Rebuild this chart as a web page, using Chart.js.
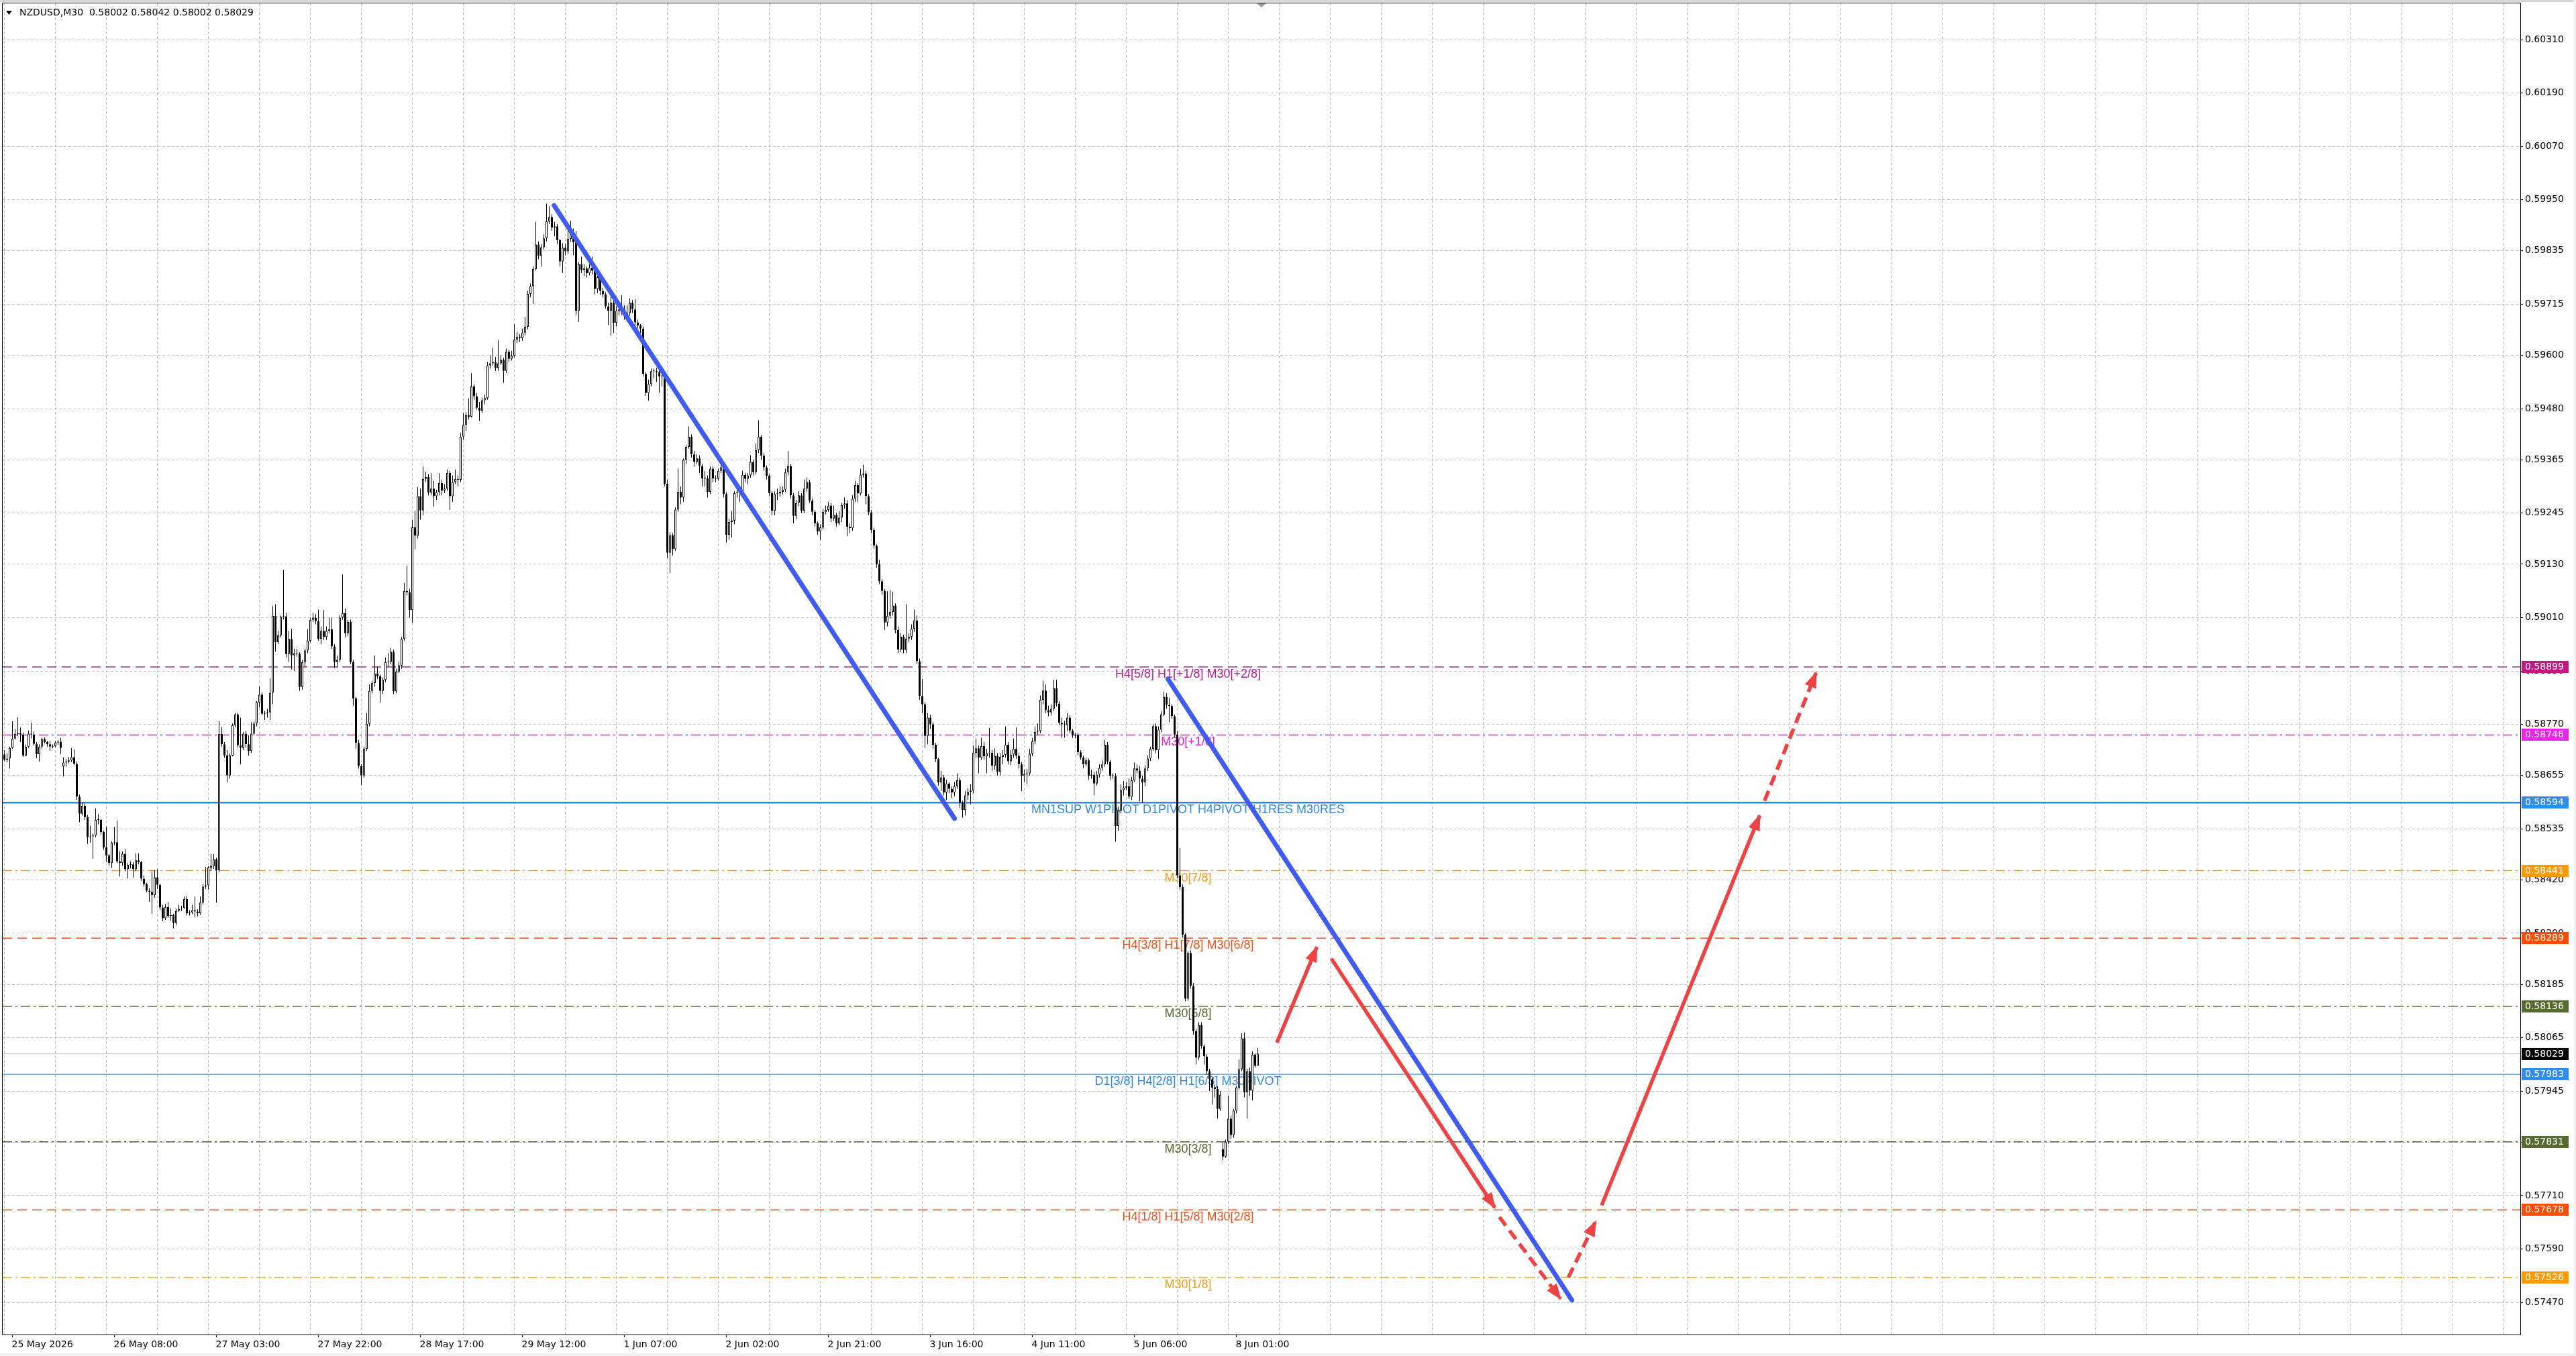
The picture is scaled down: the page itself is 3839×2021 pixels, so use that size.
<!DOCTYPE html>
<html>
<head>
<meta charset="utf-8">
<title>NZDUSD,M30</title>
<script src="https://cdn.jsdelivr.net/npm/chart.js@4.4.1/dist/chart.umd.min.js"></script>
<style>
  html, body { margin: 0; padding: 0; background: #fff; overflow: hidden; }
  #chart { display: block; width: 3839px; height: 2021px; }
</style>
</head>
<body>
<canvas id="chart" width="3839" height="2021"></canvas>
<script>
// ---------------- DATA ----------------
// prices are in points (1 point = 0.00001)
const POINT = 0.00001;
const symbolName = 'NZDUSD,M30';

const opens = [
  58702,58690,58693,58717,58738,58748,58750,58747,58700,58720, 58749,58747,58726,58703,58720,58736,58730,58725,58720,58721,
  58729,58731,58675,58684,58686,58689,58696,58681,58607,58569, 58587,58561,58516,58518,58520,58555,58555,58528,58493,58475,
  58458,58504,58505,58462,58458,58479,58444,58454,58455,58444, 58464,58460,58423,58410,58396,58393,58386,58426,58409,58358,
  58334,58359,58339,58341,58323,58351,58355,58357,58377,58345, 58347,58352,58349,58345,58369,58405,58408,58448,58451,58466,
  58442,58748,58725,58700,58655,58700,58768,58792,58723,58717, 58749,58725,58710,58749,58772,58819,58837,58794,58795,58797,
  58841,59014,58955,58970,59012,59013,58928,58962,58925,58930, 58929,58854,58910,58936,58958,59005,59010,59002,58962,58980,
  58967,58980,58984,58945,58910,58915,59010,59020,58975,59000, 58910,58828,58728,58676,58655,58715,58771,58845,58863,58884,
  58878,58845,58870,58910,58910,58933,58844,58889,58902,58962, 59070,59067,59027,59213,59194,59283,59251,59322,59326,59291,
  59300,59283,59292,59313,59296,59300,59335,59283,59315,59322, 59320,59417,59443,59465,59462,59530,59508,59482,59475,59499,
  59504,59577,59582,59584,59571,59582,59590,59565,59608,59592, 59599,59635,59642,59639,59651,59664,59738,59755,59794,59849,
  59824,59843,59863,59901,59911,59887,59890,59859,59811,59842, 59834,59862,59877,59854,59700,59805,59792,59795,59785,59797,
  59790,59749,59776,59745,59737,59710,59700,59718,59673,59700, 59703,59704,59690,59695,59718,59703,59674,59667,59660,59558,
  59515,59535,59564,59564,59562,59552,59553,59311,59156,59195, 59164,59253,59293,59280,59365,59394,59417,59377,59360,59368,
  59351,59323,59323,59293,59345,59323,59322,59340,59348,59288, 59196,59225,59228,59290,59291,59290,59331,59322,59330,59360,
  59337,59387,59417,59374,59348,59329,59290,59250,59288,59289, 59293,59298,59337,59351,59285,59239,59268,59285,59250,59300,
  59315,59273,59248,59222,59204,59213,59248,59252,59262,59233, 59241,59222,59235,59263,59267,59214,59211,59277,59308,59289,
  59331,59334,59283,59247,59207,59172,59130,59092,59070,58999, 59014,59023,59037,58982,58938,58967,58937,58963,58967,58985,
  59004,58912,58834,58815,58744,58785,58770,58724,58692,58639, 58651,58617,58637,58625,58617,58631,58644,58593,58577,58610,
  58618,58621,58706,58716,58695,58721,58698,58705,58706,58677, 58699,58663,58697,58701,58724,58687,58702,58715,58699,58680,
  58654,58658,58660,58704,58732,58753,58755,58825,58846,58802, 58797,58805,58851,58817,58773,58770,58768,58785,58756,58745,
  58746,58707,58695,58680,58689,58654,58657,58637,58657,58672, 58680,58724,58686,58654,58654,58541,58576,58622,58628,58631,
  58607,58644,58671,58666,58648,58639,58671,58693,58715,58766, 58712,58758,58792,58832,58814,58811,58788,58747,58430,58404,
  58297,58153,58256,58182,58080,58021,58094,58046,58023,57990, 57972,57953,57950,57905,57815,57798,57831,57883,57846,57901,
  57953,57994,58064,57942,57990,57946,58027,58002
];

const highs = [
  58712,58705,58720,58777,58760,58786,58763,58752,58724,58756, 58774,58753,58730,58725,58740,58741,58733,58733,58725,58732,
  58735,58740,58696,58692,58697,58717,58714,58686,58612,58594, 58592,58566,58542,58524,58581,58568,58558,58531,58540,58478,
  58507,58539,58553,58484,58484,58490,58458,58462,58460,58480, 58480,58463,58430,58414,58402,58440,58442,58444,58412,58364,
  58366,58370,58356,58344,58355,58364,58362,58383,58384,58352, 58364,58383,58354,58383,58410,58449,58451,58478,58478,58470,
  58777,58764,58730,58712,58705,58772,58796,58796,58785,58753, 58755,58745,58775,58776,58822,58855,58842,58800,58805,58873,
  59036,59040,58980,59015,59118,59020,58980,58985,58940,58940, 58932,58914,58940,58984,59010,59020,59018,59028,58990,59027,
  58990,59010,59010,58950,58925,59015,59107,59030,59005,59005, 58915,58832,58735,58680,58720,58795,58860,58868,58925,58900,
  58882,58875,58920,58930,58942,58938,58895,58910,58967,59088, 59127,59075,59230,59250,59304,59300,59350,59338,59333,59335,
  59318,59298,59335,59320,59310,59343,59340,59330,59343,59330, 59425,59470,59472,59503,59560,59535,59515,59495,59505,59512,
  59585,59600,59617,59596,59634,59600,59594,59615,59612,59610, 59670,59652,59648,59660,59686,59745,59762,59800,59900,59856,
  59850,59872,59941,59935,59917,59900,59895,59862,59852,59850, 59888,59903,59885,59880,59810,59822,59805,59800,59805,59822,
  59793,59785,59780,59752,59742,59718,59735,59730,59710,59720, 59735,59712,59712,59728,59724,59726,59680,59670,59665,59562,
  59545,59570,59570,59572,59566,59560,59556,59320,59202,59200, 59258,59345,59305,59368,59398,59440,59422,59385,59378,59375,
  59356,59340,59330,59350,59350,59330,59345,59355,59352,59292, 59232,59250,59295,59300,59300,59340,59336,59335,59375,59365,
  59402,59454,59420,59380,59352,59333,59295,59294,59300,59305, 59305,59345,59385,59355,59290,59275,59295,59290,59320,59325,
  59320,59278,59252,59226,59220,59255,59262,59270,59268,59262, 59245,59250,59268,59280,59275,59222,59285,59318,59312,59345,
  59354,59340,59288,59252,59212,59175,59140,59096,59074,59070, 59072,59068,59042,58990,58975,58972,59040,58975,58995,59028,
  59015,58918,58872,58820,58795,58792,58775,58728,58695,58665, 58656,58645,58640,58630,58640,58660,58650,58598,58620,58626,
  58635,58722,58738,58722,58740,58730,58715,58762,58712,58716, 58705,58705,58712,58765,58730,58712,58738,58763,58705,58685,
  58668,58670,58715,58740,58765,58772,58835,58868,58860,58812, 58815,58870,58870,58822,58785,58778,58795,58790,58760,58750,
  58750,58712,58700,58695,58693,58668,58662,58665,58680,58690, 58735,58730,58690,58660,58660,58585,58635,58642,58640,58648,
  58652,58684,58680,58676,58655,58678,58700,58720,58770,58772, 58765,58800,58843,58840,58830,58815,58792,58755,58492,58410,
  58300,58260,58262,58188,58085,58100,58100,58050,58028,57995, 57976,57960,57956,57945,57830,57836,57935,57890,57905,57957,
  58016,58075,58077,57995,57998,58034,58030,58042
];

const lows = [
  58687,58685,58671,58715,58736,58744,58730,58697,58698,58717, 58738,58722,58694,58686,58715,58727,58720,58710,58716,58718,
  58724,58703,58653,58675,58682,58685,58678,58600,58550,58565, 58555,58501,58504,58468,58516,58545,58522,58488,58460,58452,
  58447,58498,58458,58428,58452,58440,58423,58446,58425,58440, 58455,58418,58405,58392,58371,58344,58380,58400,58352,58327,
  58330,58335,58328,58311,58318,58348,58350,58355,58340,58340, 58343,58336,58338,58341,58365,58400,58398,58440,58445,58369,
  58437,58720,58695,58639,58648,58698,58763,58718,58680,58712, 58718,58700,58706,58745,58765,58808,58790,58780,58785,58780,
  58815,58933,58950,58965,59006,58920,58910,58893,58890,58922, 58845,58848,58900,58930,58954,59000,58995,58958,58950,58960,
  58960,58975,58940,58897,58897,58910,59005,58965,58968,58905, 58811,58715,58670,58633,58650,58710,58765,58840,58855,58872,
  58818,58838,58865,58900,58905,58838,58840,58885,58895,58958, 59060,59010,58998,59164,59188,59230,59240,59315,59285,59285,
  59260,59275,59285,59285,59290,59295,59252,59270,59310,59305, 59315,59410,59430,59455,59460,59500,59478,59452,59470,59490,
  59500,59570,59576,59565,59565,59578,59538,59560,59585,59588, 59595,59628,59630,59632,59645,59658,59730,59716,59790,59816,
  59800,59838,59856,59895,59880,59868,59850,59800,59785,59825, 59828,59855,59825,59690,59675,59785,59778,59775,59780,59782,
  59737,59740,59735,59730,59705,59668,59644,59650,59665,59690, 59690,59680,59675,59688,59695,59668,59660,59650,59552,59509,
  59498,59530,59548,59540,59515,59530,59305,59144,59110,59150, 59160,59248,59265,59270,59355,59390,59370,59350,59355,59335,
  59305,59305,59280,59288,59315,59315,59318,59335,59280,59179, 59185,59190,59220,59280,59270,59285,59315,59310,59325,59330,
  59332,59380,59365,59340,59320,59283,59240,59240,59275,59282, 59287,59292,59330,59278,59222,59232,59260,59245,59245,59293,
  59268,59240,59215,59196,59185,59208,59242,59248,59225,59228, 59215,59218,59225,59255,59193,59200,59205,59270,59270,59285,
  59325,59265,59240,59200,59165,59122,59085,59062,58982,58990, 59008,59015,58975,58930,58932,58930,58930,58955,58960,58978,
  58905,58825,58795,58717,58725,58760,58715,58685,58632,58620, 58610,58600,58615,58605,58608,58625,58582,58560,58565,58600,
  58590,58615,58695,58660,58690,58690,58660,58695,58665,58668, 58655,58655,58680,58695,58680,58678,58695,58692,58670,58620,
  58640,58635,58655,58698,58725,58745,58750,58815,58795,58788, 58790,58800,58810,58768,58740,58740,58755,58750,58740,58738,
  58700,58690,58672,58676,58645,58648,58610,58632,58650,58665, 58675,58680,58645,58648,58506,58530,58570,58610,58622,58602,
  58600,58640,58660,58597,58593,58630,58665,58688,58710,58705, 58692,58752,58788,58805,58775,58782,58740,58425,58398,58290,
  58147,58148,58175,58072,58005,58015,58040,58005,57982,57945, 57915,57930,57883,57900,57790,57795,57826,57838,57840,57895,
  57948,57990,57931,57883,57935,57924,57998,58002
];

const closes = [
  58690,58693,58717,58738,58748,58750,58747,58700,58720,58749, 58747,58726,58703,58720,58736,58730,58725,58720,58721,58729,
  58731,58717,58684,58686,58689,58696,58681,58607,58569,58587, 58561,58516,58518,58520,58555,58555,58528,58493,58475,58458,
  58504,58505,58462,58458,58479,58444,58454,58455,58444,58464, 58460,58423,58410,58396,58393,58386,58426,58409,58358,58334,
  58359,58339,58341,58323,58351,58355,58357,58377,58345,58347, 58352,58349,58345,58369,58405,58408,58448,58451,58466,58442,
  58748,58725,58700,58655,58700,58768,58792,58723,58717,58749, 58725,58710,58749,58772,58819,58837,58794,58795,58797,58841,
  59014,58955,58970,59012,59013,58928,58962,58925,58930,58929, 58854,58910,58936,58958,59005,59010,59002,58962,58980,58967,
  58980,58984,58945,58910,58915,59010,59020,58975,59000,58910, 58828,58728,58676,58655,58715,58771,58845,58863,58884,58878,
  58845,58870,58910,58910,58933,58844,58889,58902,58962,59070, 59067,59027,59213,59194,59283,59251,59322,59326,59291,59300,
  59283,59292,59313,59296,59300,59335,59283,59315,59322,59320, 59417,59443,59465,59462,59530,59508,59482,59475,59499,59504,
  59577,59582,59584,59571,59582,59590,59565,59608,59592,59599, 59635,59642,59639,59651,59664,59738,59755,59794,59849,59824,
  59843,59863,59901,59911,59887,59890,59859,59811,59842,59834, 59862,59877,59854,59700,59805,59792,59795,59785,59797,59790,
  59749,59776,59745,59737,59710,59700,59718,59673,59700,59703, 59704,59690,59695,59718,59703,59674,59667,59660,59558,59515,
  59535,59564,59564,59562,59552,59553,59311,59156,59195,59164, 59253,59293,59280,59365,59394,59417,59377,59360,59368,59351,
  59323,59323,59293,59345,59323,59322,59340,59348,59288,59196, 59225,59228,59290,59291,59290,59331,59322,59330,59360,59337,
  59387,59417,59374,59348,59329,59290,59250,59288,59289,59293, 59298,59337,59351,59285,59239,59268,59285,59250,59300,59315,
  59273,59248,59222,59204,59213,59248,59252,59262,59233,59241, 59222,59235,59263,59267,59214,59211,59277,59308,59289,59331,
  59334,59283,59247,59207,59172,59130,59092,59070,58999,59014, 59023,59037,58982,58938,58967,58937,58963,58967,58985,59004,
  58912,58834,58815,58744,58785,58770,58724,58692,58639,58651, 58617,58637,58625,58617,58631,58644,58593,58577,58610,58618,
  58621,58706,58716,58695,58721,58698,58705,58706,58677,58699, 58663,58697,58701,58724,58687,58702,58715,58699,58680,58654,
  58658,58660,58704,58732,58753,58755,58825,58846,58802,58797, 58805,58851,58817,58773,58770,58768,58785,58756,58745,58746,
  58707,58695,58680,58689,58654,58657,58637,58657,58672,58680, 58724,58686,58654,58654,58541,58576,58622,58628,58631,58607,
  58644,58671,58666,58648,58639,58671,58693,58715,58766,58712, 58758,58792,58832,58814,58811,58788,58747,58430,58404,58297,
  58153,58256,58182,58080,58021,58094,58046,58023,57990,57972, 57953,57950,57905,57937,57798,57831,57883,57846,57901,57953,
  57994,58064,57942,57990,57946,58027,58002,58029
];

// time axis: one label every 38 bars (19 hours of M30)
const xTickLabels = [
  '25 May 2026', '26 May 08:00', '27 May 03:00', '27 May 22:00', '28 May 17:00', '29 May 12:00',
  '1 Jun 07:00', '2 Jun 02:00', '2 Jun 21:00', '3 Jun 16:00', '4 Jun 11:00', '5 Jun 06:00', '8 Jun 01:00'
];

// price axis ticks as the terminal shows them
const yTickValues = [
  0.60310, 0.60190, 0.60070, 0.59950, 0.59835, 0.59715, 0.59600, 0.59480, 0.59365, 0.59245,
  0.59130, 0.59010, 0.58890, 0.58770, 0.58655, 0.58535, 0.58420, 0.58300, 0.58185, 0.58065,
  0.57945, 0.57830, 0.57710, 0.57590, 0.57470
];

// murrey / pivot levels
const levelPrices = [0.58899, 0.58746, 0.58594, 0.58441, 0.58289, 0.58136, 0.57983, 0.57831, 0.57678, 0.57526];
const levelLabels = [
  'H4[5/8] H1[+1/8] M30[+2/8]',
  'M30[+1/8]',
  'MN1SUP W1PIVOT D1PIVOT H4PIVOT H1RES M30RES',
  'M30[7/8]',
  'H4[3/8] H1[7/8] M30[6/8]',
  'M30[5/8]',
  'D1[3/8] H4[2/8] H1[6/8] M30PIVOT',
  'M30[3/8]',
  'H4[1/8] H1[5/8] M30[2/8]',
  'M30[1/8]'
];

// blue trend lines (bar index, price)
const trendFromBar = [204.8, 433.5];
const trendFromPrice = [0.59937, 0.58872];
const trendToBar = [354, 584];
const trendToPrice = [0.58558, 0.57475];

// red projection arrows (bar index, price)
const arrowFromBar = [474.1, 494.4, 557.0, 582.7, 595.1, 655.8];
const arrowFromPrice = [0.58054, 0.58243, 0.57662, 0.57526, 0.57688, 0.58598];
const arrowToBar = [489.0, 555.3, 579.8, 592.9, 654.0, 675.0];
const arrowToPrice = [0.58269, 0.57683, 0.57478, 0.57652, 0.58565, 0.58886];
const arrowDashed = [false, false, true, true, false, true];

// ---------------- STYLE ----------------
const X_MIN = -0.625, X_MAX = 937.375;
const Y_MIN = 0.573976, Y_MAX = 0.603915;
const GRID_STEP = 19;
const LABEL_STEP = 38;
const LABEL_SHIFT = 11;          // terminal prints the date a little right of its grid line
const LEVEL_LABEL_BAR = 441;
const FONT = "'DejaVu Sans', Verdana, sans-serif";
const LABEL_FONT = "'Liberation Sans', Arial, sans-serif";
const GRID_COLOR = '#c4c4c4';
const GRID_DASH = [4, 3];

const DASHES = { solid: [], dash: [14, 8], dashdot: [14, 5, 3, 5] };
const levelStyles = [
  { line: '#a2308f', box: '#c2187f', text: '#b2218c', dash: 'dash', width: 1.5 },
  { line: '#e01ee0', box: '#ee22ee', text: '#e01ee0', dash: 'dashdot', width: 1.5 },
  { line: '#2c86e6', box: '#2f8cf0', text: '#2f8ae6', dash: 'solid', width: 2.5 },
  { line: '#f5a020', box: '#ff9a00', text: '#f59a1a', dash: 'dashdot', width: 1.5 },
  { line: '#f2501a', box: '#ff4d00', text: '#f0501a', dash: 'dash', width: 1.5 },
  { line: '#556b2f', box: '#556b2f', text: '#556b2f', dash: 'dashdot', width: 1.5 },
  { line: '#3a9af0', box: '#2f8cf0', text: '#2f8ae6', dash: 'solid', width: 1.2 },
  { line: '#556b2f', box: '#556b2f', text: '#556b2f', dash: 'dashdot', width: 1.5 },
  { line: '#f2501a', box: '#ff4d00', text: '#f0501a', dash: 'dash', width: 1.5 },
  { line: '#f5a020', box: '#ff9a00', text: '#f59a1a', dash: 'dashdot', width: 1.5 }
];
const TREND_COLOR = '#3f5bf0';
const ARROW_COLOR = '#ef4242';

const bars = closes.map((c, i) => i);
const lastIndex = closes.length - 1;
const lastPrice = closes[lastIndex] * POINT;
const fmt = v => (v * POINT).toFixed(5);
const titleText = symbolName + '  ' + fmt(opens[lastIndex]) + ' ' + fmt(highs[lastIndex]) + ' ' +
  fmt(lows[lastIndex]) + ' ' + fmt(closes[lastIndex]);

// ---------------- DATASETS ----------------
const datasets = [];

// levels sit under the candles
levelPrices.forEach((p, i) => {
  const st = levelStyles[i];
  datasets.push({
    type: 'line',
    data: [{ x: X_MIN, y: p }, { x: X_MAX, y: p }],
    borderColor: st.line,
    borderWidth: st.width,
    borderDash: DASHES[st.dash],
    pointRadius: 0,
    order: 50
  });
});

// current bid line
datasets.push({
  type: 'line',
  data: [{ x: X_MIN, y: lastPrice }, { x: X_MAX, y: lastPrice }],
  borderColor: '#c0c0c0',
  borderWidth: 1,
  pointRadius: 0,
  order: 49
});

// wicks
datasets.push({
  type: 'bar',
  data: bars.map(i => ({ x: i, y: [lows[i] * POINT, highs[i] * POINT] })),
  backgroundColor: '#000',
  barThickness: 1,
  grouped: false,
  inflateAmount: 0,
  order: 40
});

// bodies: white = up, black = down
datasets.push({
  type: 'bar',
  data: bars.map(i => ({ x: i, y: [opens[i] * POINT, closes[i] * POINT] })),
  backgroundColor: bars.map(i => closes[i] >= opens[i] ? '#ffffff' : '#000000'),
  borderColor: '#000',
  borderWidth: 1,
  borderSkipped: false,
  barThickness: 3,
  minBarLength: 1,
  grouped: false,
  inflateAmount: 0,
  order: 39
});

// trend lines
trendFromBar.forEach((b, i) => {
  datasets.push({
    type: 'line',
    data: [{ x: b, y: trendFromPrice[i] }, { x: trendToBar[i], y: trendToPrice[i] }],
    borderColor: TREND_COLOR,
    borderWidth: 7,
    borderCapStyle: 'round',
    pointRadius: 0,
    order: 20
  });
});

// arrow shafts
arrowFromBar.forEach((b, i) => {
  datasets.push({
    type: 'line',
    data: [{ x: b, y: arrowFromPrice[i] }, { x: arrowToBar[i], y: arrowToPrice[i] }],
    borderColor: ARROW_COLOR,
    borderWidth: 5.5,
    borderDash: arrowDashed[i] ? [16, 9] : [],
    borderCapStyle: 'butt',
    pointRadius: 0,
    order: 10
  });
});

// ---------------- PLUGINS ----------------
const backgroundPlugin = {
  id: 'background',
  beforeDraw(chart) {
    const { ctx, width, height } = chart;
    ctx.save();
    ctx.fillStyle = '#ffffff';
    ctx.fillRect(0, 0, width, height);
    ctx.restore();
  }
};

// level names written just under each line
const levelTextPlugin = {
  id: 'levelText',
  beforeDatasetsDraw(chart) {
    const { ctx, scales: { x, y } } = chart;
    ctx.save();
    ctx.font = '18px ' + LABEL_FONT;
    ctx.textAlign = 'center';
    ctx.textBaseline = 'middle';
    const cx = x.getPixelForValue(LEVEL_LABEL_BAR);
    levelPrices.forEach((p, i) => {
      ctx.fillStyle = levelStyles[i].text;
      ctx.fillText(levelLabels[i], cx, y.getPixelForValue(p) + 11);
    });
    ctx.restore();
  }
};

const arrowHeadPlugin = {
  id: 'arrowHeads',
  afterDatasetsDraw(chart) {
    const { ctx, scales: { x, y } } = chart;
    ctx.save();
    ctx.fillStyle = ARROW_COLOR;
    arrowToBar.forEach((b, i) => {
      const x0 = x.getPixelForValue(arrowFromBar[i]);
      const y0 = y.getPixelForValue(arrowFromPrice[i]);
      const x1 = x.getPixelForValue(b);
      const y1 = y.getPixelForValue(arrowToPrice[i]);
      const a = Math.atan2(y1 - y0, x1 - x0);
      const len = 22, half = 9;
      ctx.beginPath();
      ctx.moveTo(x1 + 2 * Math.cos(a), y1 + 2 * Math.sin(a));
      ctx.lineTo(x1 - len * Math.cos(a) + half * Math.sin(a), y1 - len * Math.sin(a) - half * Math.cos(a));
      ctx.lineTo(x1 - len * Math.cos(a) - half * Math.sin(a), y1 - len * Math.sin(a) + half * Math.cos(a));
      ctx.closePath();
      ctx.fill();
    });
    ctx.restore();
  }
};

// frame, title, time marks and the coloured price tags on the right axis
const overlayPlugin = {
  id: 'overlay',
  afterDraw(chart) {
    const { ctx, chartArea: area, width, height, scales: { x, y } } = chart;
    ctx.save();

    // window edges
    ctx.fillStyle = '#d8d8d8';
    ctx.fillRect(0, 0, width, 3);
    ctx.fillStyle = '#f0f0f0';
    ctx.fillRect(0, height - 4, width, 4);
    ctx.fillRect(width - 3, 0, 3, height);

    // chart frame
    ctx.strokeStyle = '#000';
    ctx.lineWidth = 1;
    ctx.beginPath();
    ctx.moveTo(area.left - 0.5, area.bottom + 0.5);
    ctx.lineTo(area.left - 0.5, area.top - 0.5);
    ctx.lineTo(area.right + 0.5, area.top - 0.5);
    ctx.lineTo(area.right + 0.5, area.bottom + 0.5);
    ctx.lineTo(area.left - 0.5, area.bottom + 0.5);
    ctx.stroke();

    // small marks under each time label
    ctx.beginPath();
    xTickLabels.forEach((lbl, k) => {
      const px = Math.round(x.getPixelForValue(k * LABEL_STEP)) + LABEL_SHIFT + 0.5;
      ctx.moveTo(px, area.bottom);
      ctx.lineTo(px, area.bottom + 4);
    });
    ctx.stroke();

    // chart shift marker
    ctx.fillStyle = '#9a9a9a';
    const mx = area.left + (area.right - area.left) / 2;
    ctx.beginPath();
    ctx.moveTo(mx - 7, area.top);
    ctx.lineTo(mx + 7, area.top);
    ctx.lineTo(mx, area.top + 6);
    ctx.closePath();
    ctx.fill();

    // title
    ctx.fillStyle = '#000';
    ctx.beginPath();
    ctx.moveTo(9, 16);
    ctx.lineTo(18, 16);
    ctx.lineTo(13.5, 22);
    ctx.closePath();
    ctx.fill();
    ctx.font = '14px ' + FONT;
    ctx.textAlign = 'left';
    ctx.textBaseline = 'middle';
    ctx.fillText(titleText, 29, 19);

    // price tags
    const tags = levelPrices.map((p, i) => ({ p, c: levelStyles[i].box }));
    tags.push({ p: lastPrice, c: '#000000' });
    tags.forEach(t => {
      const py = Math.round(y.getPixelForValue(t.p));
      ctx.fillStyle = t.c;
      ctx.fillRect(area.right + 2, py - 9, 70, 18);
      ctx.fillStyle = '#ffffff';
      ctx.fillText(t.p.toFixed(5), area.right + 7, py + 0.5);
    });
    ctx.restore();
  }
};

// ---------------- CHART ----------------
const ctx = document.getElementById('chart');

new Chart(ctx, {
  type: 'bar',
  data: { datasets },
  options: {
    responsive: false,
    animation: false,
    devicePixelRatio: 1,
    events: [],
    layout: { padding: { left: 4, top: 5, right: 0, bottom: 0 } },
    plugins: {
      legend: { display: false },
      tooltip: { enabled: false }
    },
    scales: {
      x: {
        type: 'linear',
        position: 'bottom',
        min: X_MIN,
        max: X_MAX,
        offset: false,
        afterBuildTicks: s => {
          const t = [];
          for (let v = 0; v <= X_MAX; v += GRID_STEP) t.push({ value: v });
          s.ticks = t;
        },
        // fixed axis height, and no extra room asked for the end labels
        afterFit: s => {
          s.height = 32;
          s.paddingLeft = 0;
          s.paddingRight = 0;
        },
        grid: {
          offset: false,
          color: GRID_COLOR,
          lineWidth: 1,
          drawTicks: true,
          tickLength: 5,
          tickColor: 'rgba(0,0,0,0)'
        },
        border: { display: false, dash: GRID_DASH },
        ticks: {
          autoSkip: false,
          maxRotation: 0,
          minRotation: 0,
          align: 'start',
          labelOffset: LABEL_SHIFT,
          padding: 2,
          color: '#000',
          font: { family: FONT, size: 14 },
          callback: v => (v % LABEL_STEP === 0 && xTickLabels[v / LABEL_STEP]) ? xTickLabels[v / LABEL_STEP] : ''
        }
      },
      y: {
        type: 'linear',
        position: 'right',
        min: Y_MIN,
        max: Y_MAX,
        afterBuildTicks: s => { s.ticks = yTickValues.map(v => ({ value: v })); },
        afterFit: s => {
          s.width = 83;
          s.paddingTop = 0;
          s.paddingBottom = 0;
        },
        grid: {
          color: GRID_COLOR,
          lineWidth: 1,
          drawTicks: true,
          tickLength: 4,
          tickColor: '#000',
          tickBorderDash: []
        },
        border: { display: false, dash: GRID_DASH },
        ticks: {
          padding: 3,
          color: '#000',
          font: { family: FONT, size: 14 },
          callback: v => Number(v).toFixed(5)
        }
      }
    }
  },
  plugins: [backgroundPlugin, levelTextPlugin, arrowHeadPlugin, overlayPlugin]
});
</script>
</body>
</html>
